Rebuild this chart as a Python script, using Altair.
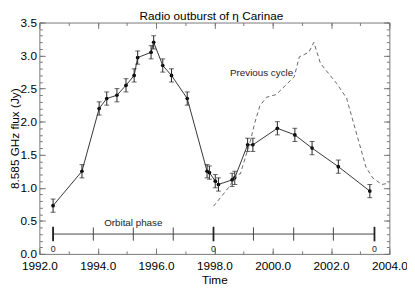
import altair as alt
import pandas as pd

# ---- data ----
years = [1992.47, 1993.46, 1994.05, 1994.31, 1994.66, 1994.97, 1995.25, 1995.37,
         1995.83, 1995.92, 1996.23, 1996.53, 1997.07, 1997.75, 1997.83, 1998.03,
         1998.14, 1998.61, 1998.70, 1999.14, 1999.32, 2000.16, 2000.76, 2001.35,
         2002.25, 2003.33]
flux = [0.73, 1.25, 2.20, 2.35, 2.40, 2.55, 2.70, 2.97,
        3.05, 3.20, 2.85, 2.70, 2.35, 1.25, 1.23, 1.10,
        1.05, 1.12, 1.15, 1.65, 1.65, 1.90, 1.80, 1.60,
        1.32, 0.95]
err = [0.10, 0.10, 0.10, 0.10, 0.10, 0.10, 0.10, 0.10,
       0.10, 0.10, 0.10, 0.10, 0.10, 0.10, 0.10, 0.10,
       0.10, 0.10, 0.10, 0.10, 0.10, 0.10, 0.10, 0.10,
       0.10, 0.10]

prev_years = [1997.97, 1998.50, 1998.78, 1998.89, 1999.23, 1999.39, 1999.56,
              1999.79, 2000.12, 2000.74, 2000.91, 2001.24, 2001.41, 2001.64,
              2002.19, 2002.53, 2003.20, 2003.43, 2003.74, 2003.99]
prev_flux = [0.72, 1.01, 1.20, 1.21, 1.70, 1.99, 2.24,
             2.37, 2.41, 2.68, 2.98, 3.05, 3.20, 2.88,
             2.58, 2.36, 1.31, 1.15, 1.05, 1.07]

phase_years = [1992.47, 1993.85, 1995.22, 1996.59, 1997.97, 1999.34,
               2000.72, 2002.08, 2003.49]
phase_zero_years = [1992.47, 1997.97, 2003.49]
phase_zero_labels = ["0", "0", "0"]

x_major = [1992, 1994, 1996, 1998, 2000, 2002, 2004]
x_minor = [1992, 1993, 1994, 1995, 1996, 1997, 1998, 1999, 2000, 2001, 2002, 2003, 2004]
y_major = [0.0, 0.5, 1.0, 1.5, 2.0, 2.5, 3.0, 3.5]
y_minor = [round(i * 0.1, 1) for i in range(36)]

title_text = "Radio outburst of η Carinae"
prev_label = "Previous cycle"
phase_label = "Orbital phase"

FONT = "Liberation Sans"
FRAME = "#777777"

df = pd.DataFrame({"year": years, "flux": flux, "err": err})
df["lo"] = df["flux"] - df["err"]
df["hi"] = df["flux"] + df["err"]
prev = pd.DataFrame({"year": prev_years, "flux": prev_flux})
phase = pd.DataFrame({"year": phase_years})
phase0 = pd.DataFrame({"year": phase_zero_years, "label": phase_zero_labels})
one = pd.DataFrame({"k": [0]})

xs = alt.Scale(domain=[1992, 2004], nice=False, zero=False)
ys = alt.Scale(domain=[0, 3.5], nice=False, zero=False)


def tick_axis(orient, values, size):
    return alt.Axis(orient=orient, values=values, labels=False, title=None,
                    domain=False, grid=False, ticks=True, tickSize=size,
                    offset=-size, tickColor=FRAME, tickWidth=1)


line = alt.Chart(df).mark_line(color="#333333", strokeWidth=1).encode(
    x=alt.X("year:Q", scale=xs, axis=alt.Axis(
        orient="bottom", values=x_major, format=".1f", ticks=False, domain=False,
        grid=False, title="Time", labelFont=FONT, labelFontSize=12,
        labelColor="#000", labelPadding=7, labelFlush=False, labelOverlap=False,
        titleFont=FONT, titleFontSize=12, titleFontWeight="normal", titleColor="#000",
        titleY=26, titleBaseline="middle")),
    y=alt.Y("flux:Q", scale=ys, axis=alt.Axis(
        orient="left", values=y_major, format=".1f", ticks=False, domain=False,
        grid=False, title="8.585 GHz flux (Jy)", labelFont=FONT, labelFontSize=12,
        labelColor="#000", labelPadding=3, labelFlush=False, labelOverlap=False,
        titleFont=FONT, titleFontSize=12, titleFontWeight="normal", titleColor="#000",
        titleX=-25, titleBaseline="middle", titleAngle=270)),
)

points = alt.Chart(df).mark_circle(color="#000", size=14, opacity=1).encode(
    x=alt.X("year:Q", scale=xs, axis=tick_axis("bottom", x_major, 6)),
    y=alt.Y("flux:Q", scale=ys, axis=tick_axis("left", y_major, 6)),
)

bars = alt.Chart(df).mark_rule(color="#222", strokeWidth=1).encode(
    x=alt.X("year:Q", scale=xs, axis=tick_axis("bottom", x_minor, 3)),
    y=alt.Y("lo:Q", scale=ys, axis=tick_axis("left", y_minor, 3)),
    y2="hi:Q",
)

caps_lo = alt.Chart(df).mark_tick(color="#222", orient="horizontal", size=5, thickness=1).encode(
    x=alt.X("year:Q", scale=xs, axis=None),
    y=alt.Y("lo:Q", scale=ys, axis=None),
)
caps_hi = alt.Chart(df).mark_tick(color="#222", orient="horizontal", size=5, thickness=1).encode(
    x=alt.X("year:Q", scale=xs, axis=None),
    y=alt.Y("hi:Q", scale=ys, axis=None),
)

prev_line = alt.Chart(prev).mark_line(color="#666", strokeWidth=1, strokeDash=[4, 3]).encode(
    x=alt.X("year:Q", scale=xs, axis=tick_axis("top", x_major, 6)),
    y=alt.Y("flux:Q", scale=ys, axis=tick_axis("right", y_major, 6)),
)

phase_line = alt.Chart(phase).mark_rule(color="#444", strokeWidth=1).encode(
    x=alt.X("min(year):Q", scale=xs, axis=tick_axis("top", x_minor, 3)),
    x2="max(year):Q",
    y=alt.Y(datum=0.3, scale=ys, axis=tick_axis("right", y_minor, 3)),
)

phase_ticks = alt.Chart(phase).mark_rule(color="#444", strokeWidth=1).encode(
    x=alt.X("year:Q", scale=xs, axis=None),
    y=alt.Y(datum=0.2, scale=ys, axis=None),
    y2=alt.Y2(datum=0.4),
)

phase_zero_ticks = alt.Chart(phase0).mark_rule(color="#222", strokeWidth=1.8).encode(
    x=alt.X("year:Q", scale=xs, axis=None),
    y=alt.Y(datum=0.19, scale=ys, axis=None),
    y2=alt.Y2(datum=0.41),
)

phase_zero_text = alt.Chart(phase0).mark_text(font=FONT, fontSize=9, color="#222",
                                             baseline="middle", align="center").encode(
    x=alt.X("year:Q", scale=xs, axis=None),
    y=alt.Y(datum=0.07, scale=ys, axis=None),
    text="label:N",
)

orbital_text = alt.Chart(one).mark_text(font=FONT, fontSize=10, color="#222",
                                       baseline="middle", align="center").encode(
    x=alt.X(datum=1995.22, scale=xs, axis=None),
    y=alt.Y(datum=0.46, scale=ys, axis=None),
    text=alt.value(phase_label),
)

prev_text = alt.Chart(one).mark_text(font=FONT, fontSize=10, color="#222",
                                    baseline="middle", align="center").encode(
    x=alt.X(datum=1999.62, scale=xs, axis=None),
    y=alt.Y(datum=2.74, scale=ys, axis=None),
    text=alt.value(prev_label),
)

title_mark = alt.Chart(one).mark_text(font=FONT, fontSize=12, color="#000",
                                     baseline="alphabetic", align="center", dy=-3).encode(
    x=alt.X(datum=1997.9, scale=xs, axis=None),
    y=alt.Y(datum=3.5, scale=ys, axis=None),
    text=alt.value(title_text),
)

chart = alt.layer(
    line, points, bars, caps_lo, caps_hi, prev_line, phase_line, phase_ticks,
    phase_zero_ticks, phase_zero_text, orbital_text, prev_text, title_mark,
).resolve_axis(x="independent", y="independent").properties(
    width=357, height=236,
    autosize=alt.AutoSizeParams(type="none"),
    padding={"left": 32, "top": 12, "right": 18, "bottom": 33},
).configure_view(stroke=FRAME, strokeWidth=1)

chart.save("out.html", embed_options={"renderer": "svg", "actions": False})
